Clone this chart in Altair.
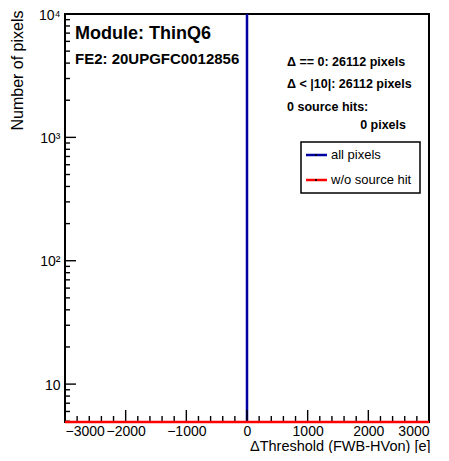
import altair as alt
import pandas as pd

# ---------------- data ----------------
x_range = [-3000, 3000]                      # histogram axis range
all_bin_center = [0]                         # only filled bin of "all pixels"
all_counts = [26112]
nosrc_counts = [0]                           # "w/o source hit": empty -> floor

x_major = [-3000, -2000, -1000, 0, 1000, 2000, 3000]
x_minor = [-2800, -2600, -2400, -2200, -1800, -1600, -1400, -1200,
           -800, -600, -400, -200, 200, 400, 600, 800,
           1200, 1400, 1600, 1800, 2200, 2400, 2600, 2800]
y_major = [10, 100, 1000, 10000]
y_minor = [5, 6, 7, 8, 9, 20, 30, 40, 50, 60, 70, 80, 90,
           200, 300, 400, 500, 600, 700, 800, 900,
           2000, 3000, 4000, 5000, 6000, 7000, 8000, 9000]
y_domain = [4.93, 10000]

module_label = ["Module: ThinQ6"]
fe_label = ["FE2: 20UPGFC0012856"]
stat_lines = ["\u0394 == 0: 26112 pixels", "\u0394 < |10|: 26112 pixels", "0 source hits:"]
stat_last = ["0 pixels"]
legend_labels = ["all pixels", "w/o source hit"]

BLUE = "#0000a0"
RED = "#ff0000"
FONT = "Liberation Sans"
W, H = 364, 408

xs = alt.Scale(domain=x_range, nice=False, zero=False)
ys = alt.Scale(type="log", domain=y_domain, nice=False)

AX = alt.Axis(
    values=x_major, format="d", ticks=False, domain=False, grid=False,
    labelFontSize=14, labelFont=FONT, labelColor="black", labelPadding=2,
    title="\u0394Threshold (FWB-HVon) [e]", titleFont=FONT, titleFontSize=14.5,
    titleFontWeight="normal", titleColor="black", titleAlign="right",
    titleAnchor="end", titleX=W + 1, titleY=28, titleBaseline="alphabetic")
AY = alt.Axis(
    values=y_major, ticks=False, domain=False, grid=False,
    labelExpr="datum.value == 10 ? '10' : datum.value == 100 ? '10\u00b2' : datum.value == 1000 ? '10\u00b3' : '10\u2074'",
    labelFontSize=14, labelFont=FONT, labelColor="black", labelPadding=5,
    labelOffset=1,
    title="Number of pixels", titleFont=FONT, titleFontSize=16,
    titleFontWeight="normal", titleColor="black", titleAngle=-90,
    titleAlign="right", titleX=-43, titleY=-4, titleBaseline="alphabetic")

# ---------------- histogram lines ----------------
df_all = pd.DataFrame({"x": all_bin_center, "y": all_counts})
blue = alt.Chart(df_all).mark_rule(color=BLUE, strokeWidth=2.5, clip=True).encode(
    x=alt.X("x:Q", scale=xs, axis=AX),
    y=alt.Y("y:Q", scale=ys, axis=AY),
    y2=alt.value(H),
)

df_red = pd.DataFrame({"x": [x_range[0]], "x2": [x_range[1]], "c": nosrc_counts})
red = alt.Chart(df_red).mark_rule(color=RED, strokeWidth=2.5).encode(
    x=alt.X("x:Q", scale=xs, axis=AX), x2="x2:Q", y=alt.value(H))

# ---------------- inward ticks ----------------
xmaj = alt.Chart(pd.DataFrame({"x": x_major})).mark_rule(color="black", strokeWidth=1.4).encode(
    x=alt.X("x:Q", scale=xs, axis=AX), y=alt.value(H), y2=alt.value(H - 12))
xmin = alt.Chart(pd.DataFrame({"x": x_minor})).mark_rule(color="black", strokeWidth=1.4).encode(
    x=alt.X("x:Q", scale=xs, axis=AX), y=alt.value(H), y2=alt.value(H - 6))
ymaj = alt.Chart(pd.DataFrame({"y": y_major})).mark_rule(color="black", strokeWidth=1.4).encode(
    y=alt.Y("y:Q", scale=ys, axis=AY), x=alt.value(0), x2=alt.value(11))
ymin = alt.Chart(pd.DataFrame({"y": y_minor})).mark_rule(color="black", strokeWidth=1.4).encode(
    y=alt.Y("y:Q", scale=ys, axis=AY), x=alt.value(0), x2=alt.value(5))

# ---------------- annotations ----------------
def text_layer(values, x, y, size, weight="bold", align="left"):
    return alt.Chart(pd.DataFrame({"t": values})).mark_text(
        align=align, baseline="alphabetic", font=FONT, fontSize=size,
        fontWeight=weight, color="black").encode(
        x=alt.value(x), y=alt.value(y), text="t:N")

t_module = text_layer(module_label, 10, 25, 18)
t_fe = text_layer(fe_label, 10, 50, 15)
t_s1 = text_layer([stat_lines[0]], 222, 52, 12.5)
t_s2 = text_layer([stat_lines[1]], 222, 74, 12.5)
t_s3 = text_layer([stat_lines[2]], 222, 97, 12.5)
t_s4 = text_layer(stat_last, 341, 115, 12.5, align="right")

# ---------------- legend ----------------
box = alt.Chart(pd.DataFrame({"b": [0]})).mark_rect(
    fill="white", stroke="black", strokeWidth=1.5).encode(
    x=alt.value(236), x2=alt.value(355), y=alt.value(128), y2=alt.value(179))

def legend_entry(label, color, y):
    d = pd.DataFrame({"t": [label]})
    line = alt.Chart(d).mark_rule(color=color, strokeWidth=2.5).encode(
        x=alt.value(241), x2=alt.value(262), y=alt.value(y))
    dot = alt.Chart(d).mark_point(filled=True, color="black", size=5, opacity=1).encode(
        x=alt.value(251), y=alt.value(y))
    txt = alt.Chart(d).mark_text(align="left", baseline="middle", font=FONT,
                                 fontSize=13, color="black").encode(
        x=alt.value(266), y=alt.value(y), text="t:N")
    return [line, dot, txt]

leg1 = legend_entry(legend_labels[0], BLUE, 141)
leg2 = legend_entry(legend_labels[1], RED, 166)

chart = alt.layer(
    blue, xmin, xmaj, ymin, ymaj, red,
    t_module, t_fe, t_s1, t_s2, t_s3, t_s4,
    box, *leg1, *leg2,
).properties(
    width=W, height=H,
    autosize=alt.AutoSizeParams(type="none"),
    padding={"left": 57, "top": 6, "right": 12, "bottom": 31},
).configure_view(stroke="black", strokeWidth=2)

chart.save("out.html", embed_options={"renderer": "svg", "actions": False})
